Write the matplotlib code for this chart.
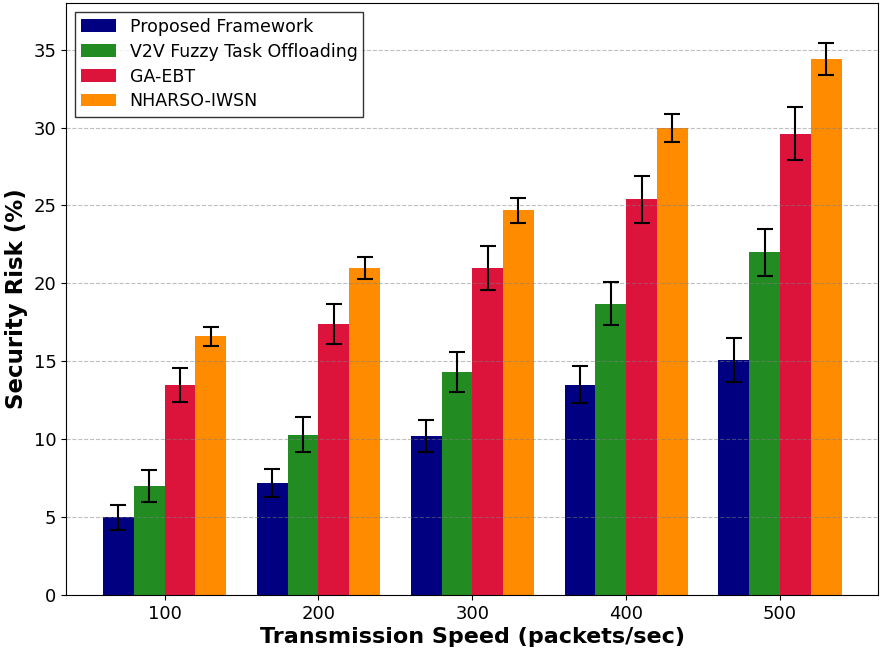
import matplotlib
matplotlib.use("Agg")
import matplotlib.pyplot as plt
import numpy as np

speeds = ["100", "200", "300", "400", "500"]
methods = ["Proposed Framework", "V2V Fuzzy Task Offloading", "GA-EBT", "NHARSO-IWSN"]
colors = ["#000080", "#228B22", "#DC143C", "#FF8C00"]

proposed = [5.0, 7.2, 10.2, 13.5, 15.1]
v2v = [7.0, 10.3, 14.3, 18.7, 22.0]
gaebt = [13.5, 17.4, 21.0, 25.4, 29.6]
nharso = [16.6, 21.0, 24.7, 30.0, 34.4]

proposed_err = [0.8, 0.9, 1.0, 1.2, 1.4]
v2v_err = [1.0, 1.1, 1.3, 1.4, 1.5]
gaebt_err = [1.1, 1.3, 1.4, 1.5, 1.7]
nharso_err = [0.6, 0.7, 0.8, 0.9, 1.0]

values = [proposed, v2v, gaebt, nharso]
errors = [proposed_err, v2v_err, gaebt_err, nharso_err]

fig = plt.figure(figsize=(8.82, 6.55), dpi=100)
ax = fig.add_axes([0.075, 0.0916, 0.921, 0.904])

x = np.arange(len(speeds))
width = 0.2
for i, (vals, errs, col, lab) in enumerate(zip(values, errors, colors, methods)):
    ax.bar(x + (i - 1.5) * width, vals, width, yerr=errs, color=col, label=lab,
           capsize=6, error_kw=dict(elinewidth=1.5, capthick=1.5, ecolor="black"))

ax.set_xticks(x)
ax.set_xticklabels(speeds, fontsize=13)
ax.tick_params(axis="y", labelsize=13)
ax.set_ylim(0, 38)
ax.set_xlabel("Transmission Speed (packets/sec)", fontsize=16, fontweight="bold", labelpad=3)
ax.set_ylabel("Security Risk (%)", fontsize=16.5, fontweight="bold")
ax.grid(axis="y", linestyle="--", color="gray", alpha=0.5)
leg = ax.legend(loc="upper left", fontsize=12.5, frameon=True, fancybox=False,
                edgecolor="black", labelspacing=0.4, borderpad=0.35)
leg.get_frame().set_linewidth(1.0)

fig.savefig("out.png", dpi=100)
